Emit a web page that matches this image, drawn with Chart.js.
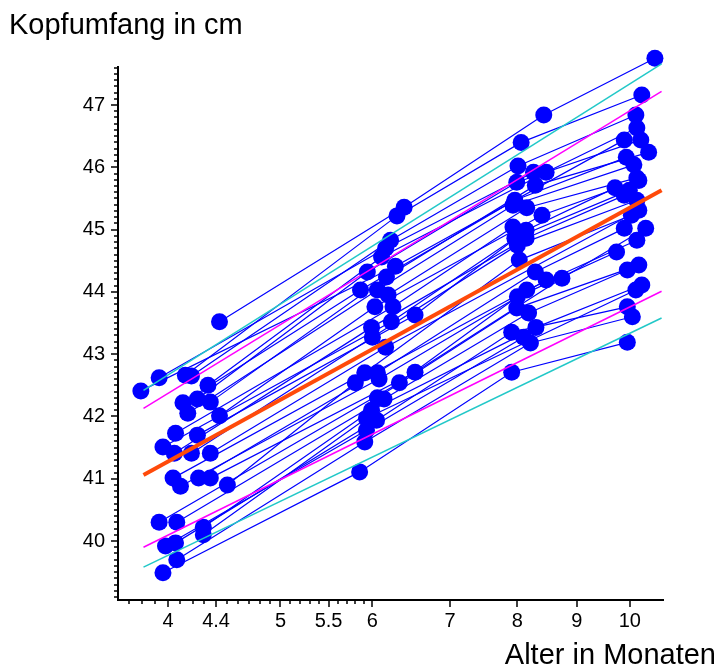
<!DOCTYPE html>
<html>
<head>
<meta charset="utf-8">
<script src="https://cdn.jsdelivr.net/npm/chart.js@4.4.0/dist/chart.umd.min.js"></script>
<style>
  body { margin: 0; background: #fff; }
  canvas { display: block; }
</style>
</head>
<body>
<canvas id="chart" width="724" height="668"></canvas>
<script>
// one entry per child, visits at about 4, 6, 8 and 10 months (null = not measured)
const age4  = [4.43, 4.14, 4.19, 3.93, 4.33, 3.79, 4.24, 4.35, 4.12, 4.16, null, 4.43, 4.06, 4.24, 3.96, 4.05,
               4.19, 4.35, 4.04, 4.25, 4.35, 4.10, 4.50, 3.93, null, 4.07, 4.29, 4.29, 4.06, 3.98, 4.07, 3.96];
const head4 = [43.52, 42.66, 42.65, 42.62, 42.50, 42.41, 42.28, 42.23, 42.22, 42.05, null, 42.01, 41.73, 41.70, 41.51, 41.41,
               41.41, 41.41, 41.01, 41.01, 41.01, 40.88, 40.90, 40.30, null, 40.30, 40.22, 40.10, 39.97, 39.92, 39.70, 39.49];
const age6  = [6.39, 6.30, 6.22, 6.16, 6.11, 6.28, 5.94, 6.17, 5.86, 6.06, 6.19, 6.03, 6.25, 6.53, 6.23, 5.99,
               6.00, 6.16, 5.91, 6.06, 6.53, 6.08, 5.80, 6.33, 6.06, 6.14, 5.99, 5.93, 6.05, 5.93, 5.91, 5.85];
const head6 = [45.36, 45.22, 44.83, 44.70, 44.56, 44.41, 44.32, 44.24, 44.03, 44.03, 43.95, 43.76, 43.76, 43.63, 43.52, 43.43,
               43.27, 43.11, 42.70, 42.70, 42.71, 42.60, 42.54, 42.54, 42.30, 42.28, 42.10, 41.97, 41.94, 41.78, 41.59, 41.11];
const age8  = [8.43, 8.06, 8.01, 8.26, 8.47, null, 7.99, 8.29, 7.96, 7.93, 8.15, 8.40, 7.93, 8.14, 7.96, 8.14,
               8.00, null, 8.03, 8.29, 8.74, 8.47, 8.15, 8.00, 7.99, 8.18, 8.30, null, 7.91, 8.10, 8.21, 7.91];
const head8 = [46.84, 46.40, 46.02, 45.92, 45.92, null, 45.76, 45.71, 45.47, 45.39, 45.35, 45.23, 45.04, 44.99, 44.86, 44.86,
               44.75, null, 44.51, 44.32, 44.22, 44.19, 44.03, 43.92, 43.74, 43.66, 43.43, null, 43.35, 43.27, 43.18, 42.71];
const age10  = [10.51, 10.24, 10.12, null, 10.14, 9.89, 10.22, 10.38, 9.93, 10.08, 10.14, 10.18, null, 9.71, 9.99, 9.89,
                10.14, 10.18, 10.03, 9.89, 10.32, null, 10.14, 9.74, 10.18, 9.95, 10.24, 10.12, 9.95, null, 10.05, 9.95];
const head10 = [47.75, 47.16, 46.84, null, 46.63, 46.44, 46.44, 46.24, 46.16, 46.04, 45.83, 45.79, null, 45.67, 45.63, 45.55,
                45.47, 45.31, 45.23, 45.02, 45.02, null, 44.83, 44.64, 44.43, 44.35, 44.11, 44.03, 43.76, null, 43.60, 43.19];

// reference curves (ends)
const refAges  = [3.81, 10.65];
const meanLine = [41.06, 45.63];
const upper1   = [42.13, 47.22];
const lower1   = [39.90, 44.01];
const upper2   = [42.42, 47.66];
const lower2   = [39.58, 43.58];

const xTicks = [4, 4.4, 5, 5.5, 6, 7, 8, 9, 10];
const xMinor = [3.7, 3.8, 3.9, 4.1, 4.2, 4.3, 4.5, 4.6, 4.7, 4.8, 4.9, 5.1, 5.2, 5.3, 5.4, 5.6, 5.7, 5.8, 5.9];
const yTicks = [40, 41, 42, 43, 44, 45, 46, 47];
const yAxisTop = 47.62;

const FONT = '"Liberation Sans", Arial, sans-serif';

const childSets = age6.map((_, i) => {
  const pts = [[age4[i], head4[i]], [age6[i], head6[i]], [age8[i], head8[i]], [age10[i], head10[i]]]
    .filter(p => p[0] != null)
    .map(p => ({ x: p[0], y: p[1] }));
  return {
    data: pts,
    borderColor: '#0000ff',
    backgroundColor: '#0000ff',
    borderWidth: 1.2,
    pointRadius: 8.5,
    pointHoverRadius: 8.5,
    pointBorderWidth: 0,
    clip: false,
    order: 2
  };
});

function refSet(vals, color, width) {
  return {
    data: refAges.map((a, i) => ({ x: a, y: vals[i] })),
    borderColor: color,
    borderWidth: width,
    pointRadius: 0,
    clip: false,
    order: 1
  };
}

// y axis line, tick marks and the two axis captions
const axisDecor = {
  id: 'axisDecor',
  afterDraw(chart) {
    const { ctx, chartArea, scales: { x, y } } = chart;
    ctx.save();
    ctx.strokeStyle = '#000';
    ctx.lineWidth = 2;
    ctx.beginPath();
    ctx.moveTo(chartArea.left, Math.round(y.getPixelForValue(yAxisTop)));
    ctx.lineTo(chartArea.left, chartArea.bottom);
    ctx.stroke();

    ctx.lineWidth = 1.5;
    ctx.beginPath();
    for (let k = 391; k <= 476; k++) {
      const py = Math.round(y.getPixelForValue(k / 10));
      const len = (k % 10 === 0) ? 7 : 4;
      ctx.moveTo(chartArea.left - len, py);
      ctx.lineTo(chartArea.left, py);
    }
    xTicks.forEach(v => {
      const px = Math.round(x.getPixelForValue(v));
      ctx.moveTo(px, chartArea.bottom);
      ctx.lineTo(px, chartArea.bottom + 7);
    });
    xMinor.forEach(v => {
      const px = Math.round(x.getPixelForValue(v));
      ctx.moveTo(px, chartArea.bottom);
      ctx.lineTo(px, chartArea.bottom + 4);
    });
    ctx.stroke();

    ctx.fillStyle = '#000';
    ctx.font = '29px ' + FONT;
    ctx.textBaseline = 'alphabetic';
    ctx.textAlign = 'left';
    ctx.fillText('Kopfumfang in cm', 9, 34);
    ctx.textAlign = 'right';
    ctx.fillText('Alter in Monaten', 716, 664);
    ctx.restore();
  }
};

new Chart(document.getElementById('chart'), {
  type: 'line',
  data: {
    datasets: [
      refSet(upper2, '#22c8c8', 1.5),
      refSet(lower2, '#22c8c8', 1.5),
      refSet(upper1, '#ff00ff', 1.5),
      refSet(lower1, '#ff00ff', 1.5),
      refSet(meanLine, '#ff4a0a', 4),
      ...childSets
    ]
  },
  options: {
    responsive: false,
    animation: false,
    events: [],
    layout: { padding: { top: 55, right: 61, left: 0, bottom: 0 } },
    plugins: { legend: { display: false }, tooltip: { enabled: false } },
    scales: {
      x: {
        type: 'logarithmic',
        min: 3.622,
        max: 10.68,
        afterBuildTicks: s => { s.ticks = xTicks.map(v => ({ value: v })); },
        afterFit: s => { s.height = 68; },
        ticks: {
          callback: v => String(v),
          autoSkip: false,
          maxRotation: 0,
          padding: 9,
          color: '#000',
          font: { family: FONT, size: 20 }
        },
        grid: { display: false, drawTicks: false },
        border: { display: true, color: '#000', width: 2 }
      },
      y: {
        type: 'linear',
        min: 39.053,
        max: 47.803,
        afterBuildTicks: s => { s.ticks = yTicks.map(v => ({ value: v })); },
        afterFit: s => { s.width = 118; },
        ticks: {
          callback: v => String(v),
          padding: 13,
          color: '#000',
          font: { family: FONT, size: 20 }
        },
        grid: { display: false, drawTicks: false },
        border: { display: false }
      }
    }
  },
  plugins: [axisDecor]
});
</script>
</body>
</html>
